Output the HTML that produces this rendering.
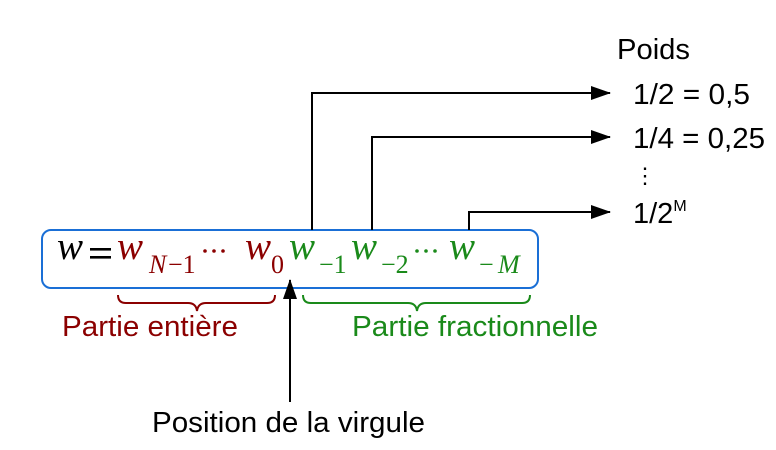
<!DOCTYPE html>
<html><head><style>body{margin:0;background:#fff}</style></head><body>
<svg width="776" height="445" viewBox="0 0 776 445" xmlns="http://www.w3.org/2000/svg">
<defs><marker id="b" markerWidth="20" markerHeight="14" refX="19" refY="7" orient="auto" markerUnits="userSpaceOnUse"><path d="M0,0 L20,7 L0,14 z" fill="#000"/></marker></defs>
<rect x="42" y="230" width="496" height="58" rx="9" fill="none" stroke="#1a6fd6" stroke-width="2"/>
<g stroke="#000" stroke-width="2" fill="none">
<path d="M312,230 V93 H610" marker-end="url(#b)"/>
<path d="M372,230 V137 H610" marker-end="url(#b)"/>
<path d="M469,230 V212 H610" marker-end="url(#b)"/>
<path d="M290,402 V280" marker-end="url(#b)"/>
</g>
<g font-family="Liberation Serif, serif" font-style="italic">
<text x="57" y="259" font-size="39" fill="#000">w</text>
<rect x="90" y="248" width="21" height="2.6" fill="#000"/><rect x="90" y="256" width="21" height="2.6" fill="#000"/>
<g fill="#8b0000"><text x="117" y="259" font-size="39">w</text>
<text x="149" y="273" font-size="26">N</text><text x="168" y="273" font-size="26" font-style="normal">−1</text>
<circle cx="205" cy="251" r="1.8"/><circle cx="214" cy="251" r="1.8"/><circle cx="223" cy="251" r="1.8"/>
<text x="245" y="259" font-size="39">w</text><text x="271" y="273" font-size="26" font-style="normal">0</text></g>
<g fill="#1a8a1a"><text x="289" y="259" font-size="39">w</text>
<text x="319" y="273" font-size="26" font-style="normal">−1</text>
<text x="351" y="259" font-size="39">w</text><text x="381" y="273" font-size="26" font-style="normal">−2</text>
<circle cx="417" cy="251" r="1.8"/><circle cx="426" cy="251" r="1.8"/><circle cx="435" cy="251" r="1.8"/>
<text x="449" y="259" font-size="39">w</text><text x="479" y="273" font-size="26" font-style="normal">−</text><text x="498" y="273" font-size="26">M</text></g>
</g>
<path d="M118,295 q0,8 8,8 H188 q8,0 9,8 q1,-8 9,-8 H267 q8,0 8,-8" fill="none" stroke="#8b0000" stroke-width="2"/>
<path d="M303,295 q0,8 8,8 H408 q8,0 9,8 q1,-8 9,-8 H522 q8,0 8,-8" fill="none" stroke="#1a8a1a" stroke-width="2"/>
<g font-family="Liberation Sans, sans-serif" font-size="29">
<text x="62" y="336" fill="#8b0000" textLength="176" lengthAdjust="spacingAndGlyphs">Partie entière</text>
<text x="352" y="336" fill="#1a8a1a" textLength="246" lengthAdjust="spacingAndGlyphs">Partie fractionnelle</text>
<text x="152" y="432" fill="#000" textLength="273" lengthAdjust="spacingAndGlyphs">Position de la virgule</text>
<text x="617" y="59" fill="#000" textLength="73" lengthAdjust="spacingAndGlyphs">Poids</text>
<text x="633" y="104" fill="#000" textLength="117" lengthAdjust="spacingAndGlyphs">1/2 = 0,5</text>
<text x="633" y="148" fill="#000" textLength="132" lengthAdjust="spacingAndGlyphs">1/4 = 0,25</text>
<text x="634" y="183" fill="#000" font-size="22">⋮</text>
<text x="633" y="223" fill="#000">1/2<tspan font-size="16" dy="-12">M</tspan></text>
</g>
</svg>
</body></html>
